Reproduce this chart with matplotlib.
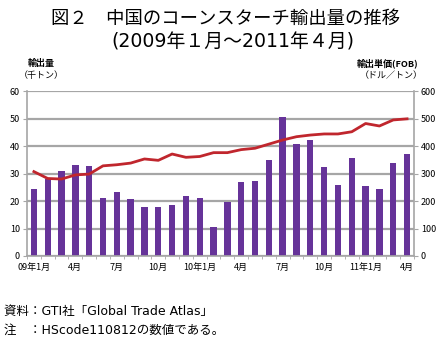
import matplotlib
matplotlib.use('Agg')
import matplotlib.pyplot as plt
import numpy as np

plt.rcParams['font.family'] = ['Noto Sans CJK JP', 'DejaVu Sans']
latin_first = ['DejaVu Sans', 'Noto Sans CJK JP']

# monthly data, 2009-01 .. 2011-04
volume = [24.4, 27.9, 30.8, 33.1, 32.8, 21.0, 23.2, 20.6, 17.8, 17.8, 18.4, 21.7,
          21.0, 10.7, 19.8, 26.8, 27.2, 34.8, 50.4, 40.6, 42.2, 32.2, 25.7, 35.5,
          25.3, 24.2, 33.8, 37.0]
unit_price = [307, 282, 280, 295, 298, 328, 332, 338, 353, 348, 371, 359,
              362, 376, 376, 387, 392, 407, 422, 434, 440, 444, 444, 452,
              482, 473, 495, 499]
tick_labels = ['09年1月', '4月', '7月', '10月', '10年1月', '4月', '7月', '10月',
               '11年1月', '4月']

x = np.arange(len(volume))
grid_c = '#a6a6a6'

fig = plt.figure(figsize=(4.46, 3.45), dpi=100)
ax = fig.add_axes([0.0605, 0.258, 0.8677, 0.478])
ax.set_axisbelow(True)
ax.bar(x, volume, width=0.46, color='#663399', zorder=2)
ax.set_xlim(-0.5, len(volume) - 0.5)
ax.set_ylim(0, 60)
ax.set_yticks(range(0, 61, 10))
ax.yaxis.grid(True, color=grid_c, linewidth=1.6)
ax.set_xticks(x[::3])
ax.set_xticklabels(tick_labels, fontsize=6.5)
ax.set_xticks(np.arange(-0.5, len(volume)), minor=True)
ax.tick_params(axis='x', which='major', length=0, pad=5)
ax.tick_params(axis='x', which='minor', length=2.5, color=grid_c)
ax.tick_params(axis='y', labelsize=6.5, length=3, color=grid_c, pad=2)
for s in ['top', 'right']:
    ax.spines[s].set_visible(False)
for s in ['left', 'bottom']:
    ax.spines[s].set_color(grid_c)
    ax.spines[s].set_linewidth(1.2)

ax2 = ax.twinx()
ax2.plot(x, unit_price, color='#c0262d', linewidth=2.0, zorder=3)
ax2.set_ylim(0, 600)
ax2.set_yticks(range(0, 601, 100))
ax2.tick_params(axis='y', labelsize=6.5, length=3, color=grid_c, pad=2)
for s in ['top', 'left', 'bottom']:
    ax2.spines[s].set_visible(False)
ax2.spines['right'].set_color(grid_c)
ax2.spines['right'].set_linewidth(1.2)

fig.text(0.505, 0.945, '図２　中国のコーンスターチ輸出量の推移', ha='center', va='center',
         fontsize=13.2, weight='normal')
fig.text(0.522, 0.877, '(2009年１月～2011年４月)', ha='center', va='center',
         fontsize=13.6, family=latin_first)
fig.text(0.092, 0.817, '輸出量', ha='center', va='center', fontsize=6.5, weight='bold')
fig.text(0.092, 0.780, '（千トン）', ha='center', va='center', fontsize=6.5)
fig.text(0.870, 0.817, '輸出単価(FOB)', ha='center', va='center', fontsize=6.5, weight='bold')
fig.text(0.877, 0.780, '（ドル／トン）', ha='center', va='center', fontsize=6.5)

fig.text(0.01, 0.098, '資料：GTI社「Global Trade Atlas」', ha='left', va='center',
         fontsize=9, family=latin_first)
fig.text(0.01, 0.043, '注　：HScode110812の数値である。', ha='left', va='center',
         fontsize=9, family=latin_first)

fig.savefig('out.png', dpi=100)
